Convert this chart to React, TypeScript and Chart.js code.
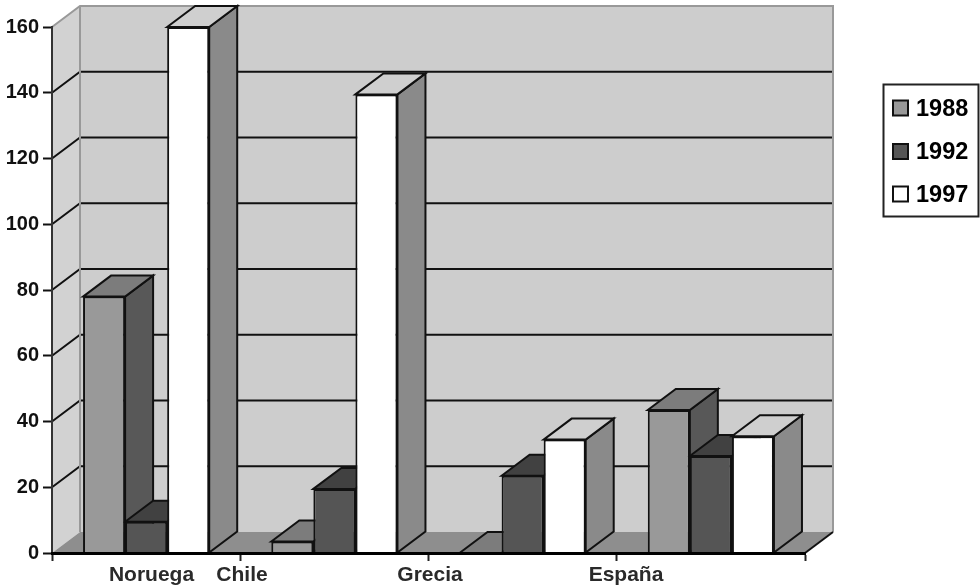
import { useEffect, useRef } from "react";
import { Chart, registerables } from "chart.js";

Chart.register(...registerables);

const paises = ["Noruega", "Chile", "Grecia", "España"];
const serie1988 = [78, 3.5, 0, 43.5];
const serie1992 = [9.5, 19.5, 23.5, 29.5];
const serie1997 = [160, 139.5, 34.5, 35.5];
const anios = ["1988", "1992", "1997"];

// Horizontal position of each country name along the axis
const posicionEtiquetas = [151.5, 242, 430, 626];

const FONT = '"Liberation Sans", Arial, sans-serif';
const TINTA = "#111111";
const DEPTH_X = 28;
const DEPTH_Y = -21;

const caras = [
  { front: "#999999", top: "#7c7c7c", side: "#585858" },
  { front: "#555555", top: "#414141", side: "#3c3c3c" },
  { front: "#ffffff", top: "#cfcfcf", side: "#8a8a8a" },
];

function polygon(ctx: CanvasRenderingContext2D, pts: number[][], fill: string, stroke: string | null, width = 2) {
  ctx.beginPath();
  pts.forEach(([x, y], i) => (i ? ctx.lineTo(x, y) : ctx.moveTo(x, y)));
  ctx.closePath();
  ctx.fillStyle = fill;
  ctx.fill();
  if (stroke) {
    ctx.strokeStyle = stroke;
    ctx.lineWidth = width;
    ctx.lineJoin = "miter";
    ctx.stroke();
  }
}

// Back wall, side wall, floor and the grid lines that wrap around them
const paredes = {
  id: "paredes",
  beforeDraw(chart: any) {
    const { ctx, chartArea: a, scales } = chart;
    const y = scales.y;
    ctx.save();
    polygon(ctx, [[a.left, a.top], [a.left + DEPTH_X, a.top + DEPTH_Y], [a.left + DEPTH_X, a.bottom + DEPTH_Y], [a.left, a.bottom]], "#d2d2d2", null);
    polygon(ctx, [[a.left + DEPTH_X, a.top + DEPTH_Y], [a.right + DEPTH_X, a.top + DEPTH_Y], [a.right + DEPTH_X, a.bottom + DEPTH_Y], [a.left + DEPTH_X, a.bottom + DEPTH_Y]], "#cdcdcd", null);
    polygon(ctx, [[a.left, a.bottom], [a.left + DEPTH_X, a.bottom + DEPTH_Y], [a.right + DEPTH_X, a.bottom + DEPTH_Y], [a.right, a.bottom]], "#8e8e8e", null);

    ctx.lineWidth = 2;
    y.ticks.forEach((t: any) => {
      if (t.value === 0 || t.value === y.max) return;
      const py = y.getPixelForValue(t.value);
      ctx.strokeStyle = "#111111";
      ctx.beginPath();
      ctx.moveTo(a.left, py);
      ctx.lineTo(a.left + DEPTH_X, py + DEPTH_Y);
      ctx.lineTo(a.right + DEPTH_X, py + DEPTH_Y);
      ctx.stroke();
    });

    ctx.strokeStyle = "#999999";
    ctx.beginPath();
    ctx.moveTo(a.left, a.top);
    ctx.lineTo(a.left + DEPTH_X, a.top + DEPTH_Y);
    ctx.lineTo(a.right + DEPTH_X, a.top + DEPTH_Y);
    ctx.lineTo(a.right + DEPTH_X, a.bottom + DEPTH_Y);
    ctx.moveTo(a.left + DEPTH_X, a.top + DEPTH_Y);
    ctx.lineTo(a.left + DEPTH_X, a.bottom + DEPTH_Y);
    ctx.stroke();

    ctx.strokeStyle = "#111111";
    ctx.beginPath();
    ctx.moveTo(a.right, a.bottom);
    ctx.lineTo(a.right + DEPTH_X, a.bottom + DEPTH_Y);
    ctx.stroke();
    ctx.restore();
  },
};

// Extruded top and side of every bar, painted left to right behind the front faces
const volumen = {
  id: "volumen",
  beforeDatasetsDraw(chart: any) {
    const { ctx } = chart;
    ctx.save();
    paises.forEach((_, i) => {
      chart.data.datasets.forEach((_d: any, j: number) => {
        const bar: any = chart.getDatasetMeta(j).data[i];
        const { x, y, base, width } = bar.getProps(["x", "y", "base", "width"], true);
        const l = x - width / 2;
        const r = x + width / 2;
        polygon(ctx, [[r, y], [r + DEPTH_X, y + DEPTH_Y], [r + DEPTH_X, base + DEPTH_Y], [r, base]], caras[j].side, TINTA);
        polygon(ctx, [[l, y], [l + DEPTH_X, y + DEPTH_Y], [r + DEPTH_X, y + DEPTH_Y], [r, y]], caras[j].top, TINTA);
      });
    });
    ctx.restore();
  },
};

// Country names under the axis and the boxed legend
const rotulos = {
  id: "rotulos",
  afterDraw(chart: any) {
    const { ctx } = chart;
    ctx.save();
    ctx.fillStyle = "#2a2a2a";
    ctx.font = `bold 21px ${FONT}`;
    ctx.textAlign = "center";
    ctx.textBaseline = "alphabetic";
    paises.forEach((nombre, i) => ctx.fillText(nombre, posicionEtiquetas[i], 581));

    ctx.strokeStyle = "#222222";
    ctx.lineWidth = 2;
    ctx.strokeRect(883.5, 84.5, 95, 132);
    const filas = [108, 151.5, 194];
    ctx.textAlign = "left";
    ctx.font = `bold 23.5px ${FONT}`;
    anios.forEach((anio, j) => {
      ctx.fillStyle = caras[j].front;
      ctx.fillRect(893, filas[j] - 7.5, 15, 15);
      ctx.strokeStyle = "#111111";
      ctx.strokeRect(893, filas[j] - 7.5, 15, 15);
      ctx.fillStyle = "#000000";
      ctx.fillText(anio, 916, filas[j] + 7.5);
    });
    ctx.restore();
  },
};

export default function App() {
  const ref = useRef<HTMLCanvasElement>(null);

  useEffect(() => {
    const valores = [serie1988, serie1992, serie1997];
    const chart = new Chart(ref.current as HTMLCanvasElement, {
      type: "bar",
      data: {
        labels: paises,
        datasets: anios.map((anio, j) => ({
          label: anio,
          data: valores[j],
          backgroundColor: caras[j].front,
          borderColor: TINTA,
          borderWidth: 2,
          barPercentage: 1,
          categoryPercentage: 126 / 188,
        })),
      },
      options: {
        animation: false,
        responsive: false,
        layout: { padding: { top: 27, right: 175, left: 0, bottom: 0 } },
        plugins: { legend: { display: false }, tooltip: { enabled: false } },
        scales: {
          x: {
            offset: true,
            afterFit: (s: any) => { s.height = 35; },
            ticks: { display: false },
            grid: { offset: true, drawOnChartArea: false, drawTicks: true, tickLength: 8, tickColor: "#222222", tickWidth: 2 },
            border: { color: "#000000", width: 3, z: 1 },
          },
          y: {
            min: 0,
            max: 160,
            afterFit: (s: any) => { s.width = 52; },
            ticks: {
              stepSize: 20,
              color: "#111111",
              padding: 4,
              font: { family: FONT, size: 20, weight: "bold" },
            },
            grid: { drawOnChartArea: false, drawTicks: true, tickLength: 9, tickColor: "#111111", tickWidth: 2 },
            border: { color: "#333333", width: 2 },
          },
        },
      },
      plugins: [paredes, volumen, rotulos],
    } as any);
    return () => chart.destroy();
  }, []);

  return (
    <canvas
      ref={ref}
      width={980}
      height={588}
      style={{ position: "fixed", left: 0, top: 0, width: 980, height: 588, background: "#ffffff" }}
    />
  );
}
